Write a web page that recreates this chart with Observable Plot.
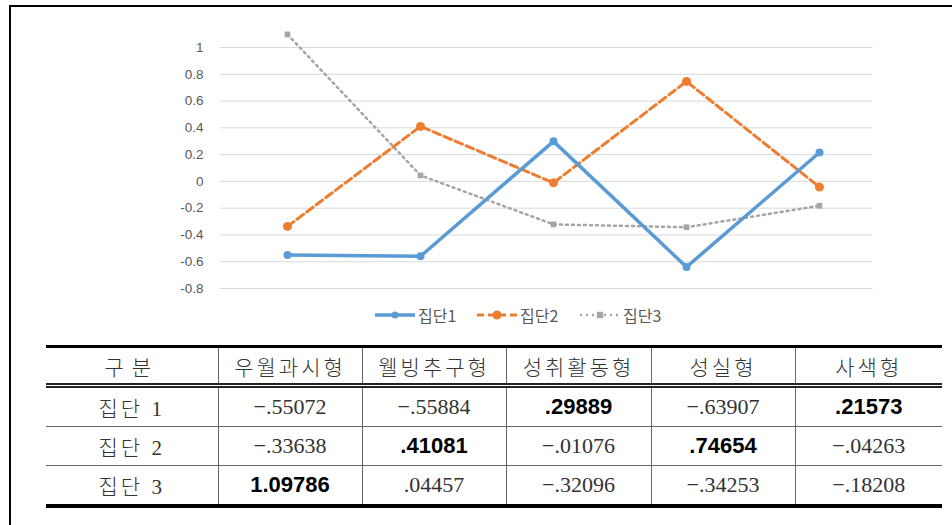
<!DOCTYPE html>
<html>
<head>
<meta charset="utf-8">
<script src="https://cdn.jsdelivr.net/npm/d3@7"></script>
<script src="https://cdn.jsdelivr.net/npm/@observablehq/plot@0.6"></script>
<style>
  html, body { margin: 0; padding: 0; background: #fff; overflow: hidden; }
  #wrap { position: relative; width: 952px; height: 525px; overflow: hidden; }
  #frame { position: absolute; left: 9px; top: 5px; width: 1000px; height: 600px;
           border-left: 2px solid #000; border-top: 2px solid #000; box-sizing: border-box; }
  #chart { position: absolute; left: 0; top: 0; }
  #legend { position: absolute; left: 0; top: 303px; width: 952px; height: 24px;
            font-family: "Noto Sans CJK KR", sans-serif; font-size: 16px; color: #595959; }
  .leg { position: absolute; top: 0; display: flex; align-items: center; height: 24px; }
  .leg svg { display: block; }
  .leg span { margin-left: 3px; }
  table { position: absolute; left: 46px; top: 345px; border-collapse: collapse; table-layout: fixed;
          font-family: "Liberation Serif", "Noto Sans CJK KR", serif; color: #1a1a1a; }
  th, td { text-align: center; padding: 0; border-left: 1px solid #666; border-right: 1px solid #666; }
  th:first-child, td:first-child { border-left: none; }
  th:last-child, td:last-child { border-right: none; }
  thead tr { border-top: 3px solid #000; border-bottom: 5px double #222; }
  th { font-weight: 300; font-size: 21px; letter-spacing: 3px; height: 35px; color: #333; }
  th.first { letter-spacing: 8px; }
  tbody tr { border-bottom: 1px solid #666; }
  tbody tr:last-child { border-bottom: 4px solid #000; }
  td { font-size: 22px; height: 38px; color: #333; }
  td.lab { letter-spacing: 3px; font-size: 21px; font-weight: 300; }
  td.b { font-family: "Liberation Sans", sans-serif; font-weight: bold; font-size: 22px; color: #000; }
</style>
</head>
<body>
<div id="wrap">
  <div id="frame"></div>
  <div id="chart"></div>
  <div id="legend"></div>
</div>
<script>
// ---- data ----
const categories = ["우월과시형", "웰빙추구형", "성취활동형", "성실형", "사색형"];
const seriesNames = ["집단1", "집단2", "집단3"];
const rowLabels = ["집단 1", "집단 2", "집단 3"];
const headerFirst = "구분";
const group1 = [-0.55072, -0.55884, 0.29889, -0.63907, 0.21573];
const group2 = [-0.33638, 0.41081, -0.01076, 0.74654, -0.04263];
const group3 = [1.09786, 0.04457, -0.32096, -0.34253, -0.18208];
const yTicks = [-0.8, -0.6, -0.4, -0.2, 0, 0.2, 0.4, 0.6, 0.8, 1];

const groups = [group1, group2, group3];
const colors = ["#5b9bd5", "#ed7d31", "#a5a5a5"];
const rows = [];
groups.forEach((g, gi) => g.forEach((v, i) => rows.push({series: seriesNames[gi], cat: categories[i], value: v})));
const bySeries = s => rows.filter(r => r.series === s);

const chart = Plot.plot({
  width: 952,
  height: 300,
  marginLeft: 220,
  marginRight: 66.5,
  marginTop: 47,
  marginBottom: 12,
  style: {fontFamily: "'Liberation Sans', Arial, sans-serif", fontSize: "13px", color: "#595959", background: "transparent", overflow: "visible"},
  x: {type: "point", domain: categories, padding: 0.5, axis: null},
  y: {domain: [-0.8, 1], label: null},
  marks: [
    Plot.ruleY(yTicks, {stroke: "#d9d9d9", strokeWidth: 1, insetRight: 13}),
    Plot.axisY({ticks: yTicks, tickSize: 0, tickPadding: 17, label: null, tickFormat: d => String(d), fill: "#595959", fontSize: 13.5}),
    // group 3: dotted gray
    Plot.line(bySeries(seriesNames[2]), {x: "cat", y: "value", stroke: colors[2], strokeWidth: 2.5, strokeDasharray: "2,4"}),
    Plot.dot(bySeries(seriesNames[2]), {x: "cat", y: "value", symbol: "square", r: 3.2, fill: colors[2]}),
    // group 2: dashed orange
    Plot.line(bySeries(seriesNames[1]), {x: "cat", y: "value", stroke: colors[1], strokeWidth: 3, strokeDasharray: "8,4"}),
    Plot.dot(bySeries(seriesNames[1]), {x: "cat", y: "value", r: 4.5, fill: colors[1]}),
    // group 1: solid blue
    Plot.line(bySeries(seriesNames[0]), {x: "cat", y: "value", stroke: colors[0], strokeWidth: 3.5}),
    Plot.dot(bySeries(seriesNames[0]), {x: "cat", y: "value", r: 4, fill: colors[0]})
  ]
});
document.getElementById("chart").appendChild(chart);

// ---- legend ----
const legend = document.getElementById("legend");
const legendX = [375, 477, 580];
const dashes = [null, "7,4", "2,4"];
const widths = [3.5, 3, 2.5];
seriesNames.forEach((name, i) => {
  const item = document.createElement("div");
  item.className = "leg";
  item.style.left = legendX[i] + "px";
  const w = 40;
  const marker = i === 2
    ? `<rect x="${w/2-3.2}" y="${12-3.2}" width="6.4" height="6.4" fill="${colors[i]}"/>`
    : `<circle cx="${w/2}" cy="12" r="${i === 1 ? 4.5 : 3.5}" fill="${colors[i]}"/>`;
  item.innerHTML = `<svg width="${w}" height="24"><line x1="0" x2="${w}" y1="12" y2="12" stroke="${colors[i]}" stroke-width="${widths[i]}" ${dashes[i] ? `stroke-dasharray="${dashes[i]}"` : ""}/>${marker}</svg><span>${name}</span>`;
  legend.appendChild(item);
});

// ---- table ----
const fmt = v => (v < 0 ? "\u2212" : "") + Math.abs(v).toFixed(5).replace(/^0/, "");
const colWidths = [172, 144, 144, 145, 144, 147];
const colMax = categories.map((c, i) => d3.max(groups, g => g[i]));
const table = document.createElement("table");
let html = "<colgroup>" + colWidths.map(w => `<col style="width:${w}px">`).join("") + "</colgroup>";
html += `<thead><tr><th class="first">${headerFirst}</th>` + categories.map(c => `<th>${c}</th>`).join("") + "</tr></thead><tbody>";
groups.forEach((g, gi) => {
  html += `<tr><td class="lab">${rowLabels[gi]}</td>` +
    g.map((v, i) => `<td class="${v === colMax[i] ? "b" : ""}">${fmt(v)}</td>`).join("") + "</tr>";
});
html += "</tbody>";
table.innerHTML = html;
table.style.width = d3.sum(colWidths) + "px";
document.getElementById("wrap").appendChild(table);
</script>
</body>
</html>
